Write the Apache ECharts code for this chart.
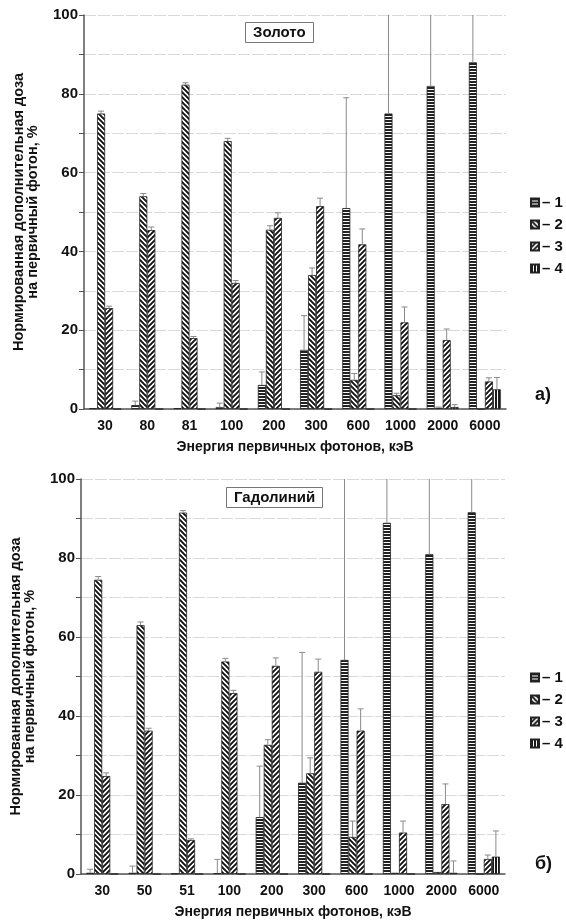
<!DOCTYPE html>
<html>
<head>
<meta charset="utf-8">
<script src="https://cdn.jsdelivr.net/npm/echarts@6/dist/echarts.min.js"></script>
<style>
  html, body { margin: 0; padding: 0; background: #fff; }
  #chart { width: 566px; height: 924px; }
</style>
</head>
<body>
<div id="chart"></div>
<script>
// данные: значения столбцов и погрешности (вверх), %
var goldCats = ['30', '80', '81', '100', '200', '300', '600', '1000', '2000', '6000'];
var gold1 = [0.2, 1, 0.2, 0.5, 6.1, 15, 51, 75, 82, 88];
var gold1Err = [0, 1, 0, 1, 3.3, 8.7, 28, 40, 30, 25];
var gold2 = [75, 54, 82.3, 68, 45.5, 34, 7.4, 3.5, 0.3, 0];
var gold2Err = [0.6, 0.7, 0.5, 0.7, 1, 1.8, 1.6, 0.5, 0.2, 0];
var gold3 = [25.6, 45.4, 18, 32, 48.5, 51.5, 41.8, 22, 17.5, 7];
var gold3Err = [0.5, 0.8, 0.4, 0.6, 1.3, 2, 3.9, 3.9, 2.8, 0.9];
var gold4 = [0, 0, 0, 0, 0, 0, 0, 0, 0.5, 5];
var gold4Err = [0, 0, 0, 0, 0, 0, 0, 0, 0.6, 3];

var gadCats = ['30', '50', '51', '100', '200', '300', '600', '1000', '2000', '6000'];
var gad1 = [0.3, 0.3, 0.1, 0.2, 14.4, 23.1, 54.2, 88.9, 81, 91.6];
var gad1Err = [0.9, 1.7, 0, 3.5, 12.9, 33, 50, 20, 25, 15];
var gad2 = [74.5, 63, 91.5, 53.8, 32.7, 25.5, 9.4, 0.3, 0.5, 0];
var gad2Err = [0.8, 0.8, 0.5, 0.8, 1.3, 3.9, 4, 0, 0, 0];
var gad3 = [24.8, 36.3, 8.6, 45.8, 52.7, 51.2, 36.3, 10.5, 17.7, 3.8];
var gad3Err = [0.8, 0.6, 0.3, 0.7, 2, 3.2, 5.5, 2.9, 5.1, 1];
var gad4 = [0, 0, 0, 0, 0, 0, 0, 0, 0.3, 4.4];
var gad4Err = [0, 0, 0, 0, 0, 0, 0, 0, 3, 6.5];

var seriesNames = ['1', '2', '3', '4'];

var FONT = '"Liberation Sans Narrow", "Arial Narrow", "Liberation Sans", Arial, sans-serif';
var BAR_W = 0.19; // доля ширины категории

// штриховки
function makePattern(kind) {
  var c = document.createElement('canvas');
  var ctx = c.getContext('2d');
  if (kind === 'h') {
    c.width = 4; c.height = 3;
    ctx.fillStyle = '#222'; ctx.fillRect(0, 0, 4, 3);
    ctx.fillStyle = '#fff'; ctx.fillRect(0, 2, 4, 1);
  } else if (kind === 'v') {
    c.width = 3; c.height = 4;
    ctx.fillStyle = '#fff'; ctx.fillRect(0, 0, 3, 4);
    ctx.fillStyle = '#1a1a1a'; ctx.fillRect(0, 0, 2, 4);
  } else {
    var s = 5;
    c.width = s; c.height = s;
    ctx.fillStyle = '#fff'; ctx.fillRect(0, 0, s, s);
    ctx.strokeStyle = '#111'; ctx.lineWidth = 1.9;
    ctx.beginPath();
    if (kind === 'b') {
      ctx.moveTo(-1, -1); ctx.lineTo(s + 1, s + 1);
      ctx.moveTo(-1, s - 1); ctx.lineTo(1, s + 1);
      ctx.moveTo(s - 1, -1); ctx.lineTo(s + 1, 1);
    } else {
      ctx.moveTo(-1, s + 1); ctx.lineTo(s + 1, -1);
      ctx.moveTo(-1, 1); ctx.lineTo(1, -1);
      ctx.moveTo(s - 1, s + 1); ctx.lineTo(s + 1, s - 1);
    }
    ctx.stroke();
  }
  return { image: c, repeat: 'repeat' };
}
var patterns = [makePattern('h'), makePattern('b'), makePattern('s'), makePattern('v')];

function barSeries(idx, name, data) {
  return {
    name: name,
    type: 'bar',
    xAxisIndex: idx,
    yAxisIndex: idx,
    barWidth: (BAR_W * 100) + '%',
    barGap: '0%',
    data: data,
    itemStyle: { color: patterns[seriesNames.indexOf(name)], borderColor: '#222', borderWidth: 0.8 },
    emphasis: { disabled: true },
    z: 2
  };
}

function errSeries(idx, k, vals, errs) {
  var data = vals.map(function (v, i) { return [i, v, v + errs[i]]; });
  return {
    type: 'custom',
    xAxisIndex: idx,
    yAxisIndex: idx,
    data: data,
    z: 3,
    silent: true,
    renderItem: function (params, api) {
      var v = api.value(1), hi = api.value(2);
      if (hi <= v) return null;
      var band = api.size([1, 0])[0];
      var off = (k - 1.5) * band * BAR_W;
      var base = api.coord([api.value(0), v]);
      var top = api.coord([api.value(0), hi]);
      var x = base[0] + off;
      var yTop = Math.max(top[1], params.coordSys.y);
      var style = { stroke: '#8a8a8a', lineWidth: 1 };
      var children = [{ type: 'line', shape: { x1: x, y1: base[1], x2: x, y2: yTop }, style: style }];
      if (top[1] >= params.coordSys.y) {
        children.push({ type: 'line', shape: { x1: x - 3, y1: yTop, x2: x + 3, y2: yTop }, style: style });
      }
      return { type: 'group', children: children };
    }
  };
}

function xAxisFor(idx, cats) {
  return {
    type: 'category',
    gridIndex: idx,
    data: cats,
    axisLine: { lineStyle: { color: '#555', width: 1.5 } },
    axisTick: { show: false },
    axisLabel: { color: '#111', fontFamily: FONT, fontWeight: 'bold', fontSize: 14, margin: 10 },
    name: 'Энергия первичных фотонов, кэВ',
    nameLocation: 'middle',
    nameGap: 31,
    nameTextStyle: { color: '#111', fontFamily: FONT, fontWeight: 'bold', fontSize: 14 }
  };
}

function yAxisFor(idx) {
  return {
    type: 'value',
    gridIndex: idx,
    min: 0, max: 100, interval: 10,
    axisLine: { show: true, lineStyle: { color: '#555', width: 1.5 } },
    axisTick: { show: true, length: 5, lineStyle: { color: '#555' } },
    splitLine: { lineStyle: { color: '#d9d9d9', type: [12, 2] } },
    axisLabel: {
      color: '#111', fontFamily: FONT, fontWeight: 'bold', fontSize: 15, margin: 6,
      formatter: function (v) { return v % 20 === 0 ? String(v) : ''; }
    },
    name: 'Нормированная дополнительная доза\nна первичный фотон, %',
    nameLocation: 'middle',
    nameGap: 44,
    nameTextStyle: { color: '#111', fontFamily: FONT, fontWeight: 'bold', fontSize: 14.5, lineHeight: 14 }
  };
}

function legendFor(top) {
  return {
    data: seriesNames,
    orient: 'vertical',
    left: 525,
    top: top,
    itemWidth: 8,
    itemHeight: 8,
    itemGap: 7,
    icon: 'rect',
    selectedMode: false,
    formatter: '– {name}',
    textStyle: { color: '#111', fontFamily: FONT, fontWeight: 'bold', fontSize: 15, padding: [0, 0, 0, -2] }
  };
}

var series = [];
[gold1, gold2, gold3, gold4].forEach(function (d, k) { series.push(barSeries(0, seriesNames[k], d)); });
[gad1, gad2, gad3, gad4].forEach(function (d, k) { series.push(barSeries(1, seriesNames[k], d)); });
[[gold1, gold1Err], [gold2, gold2Err], [gold3, gold3Err], [gold4, gold4Err]].forEach(function (p, k) {
  series.push(errSeries(0, k, p[0], p[1]));
});
[[gad1, gad1Err], [gad2, gad2Err], [gad3, gad3Err], [gad4, gad4Err]].forEach(function (p, k) {
  series.push(errSeries(1, k, p[0], p[1]));
});

var chart = echarts.init(document.getElementById('chart'), null, { renderer: 'canvas' });
chart.setOption({
  animation: false,
  backgroundColor: '#fff',
  title: [
    {
      text: 'Золото', left: 245, top: 22,
      borderColor: '#777', borderWidth: 1, padding: [3, 8],
      textStyle: { color: '#111', fontFamily: FONT, fontWeight: 'bold', fontSize: 15 }
    },
    {
      text: 'Гадолиний', left: 226, top: 487,
      borderColor: '#777', borderWidth: 1, padding: [3, 8],
      textStyle: { color: '#111', fontFamily: FONT, fontWeight: 'bold', fontSize: 15 }
    },
    {
      text: 'а)', left: 530, top: 381,
      textStyle: { color: '#111', fontFamily: FONT, fontWeight: 'bold', fontSize: 18 }
    },
    {
      text: 'б)', left: 530, top: 850,
      textStyle: { color: '#111', fontFamily: FONT, fontWeight: 'bold', fontSize: 18 }
    }
  ],
  legend: [legendFor(190), legendFor(665)],
  grid: [
    { left: 84, right: 60, top: 15, height: 394 },
    { left: 81, right: 61, top: 479, height: 395 }
  ],
  xAxis: [xAxisFor(0, goldCats), xAxisFor(1, gadCats)],
  yAxis: [yAxisFor(0), yAxisFor(1)],
  series: series
});
</script>
</body>
</html>
